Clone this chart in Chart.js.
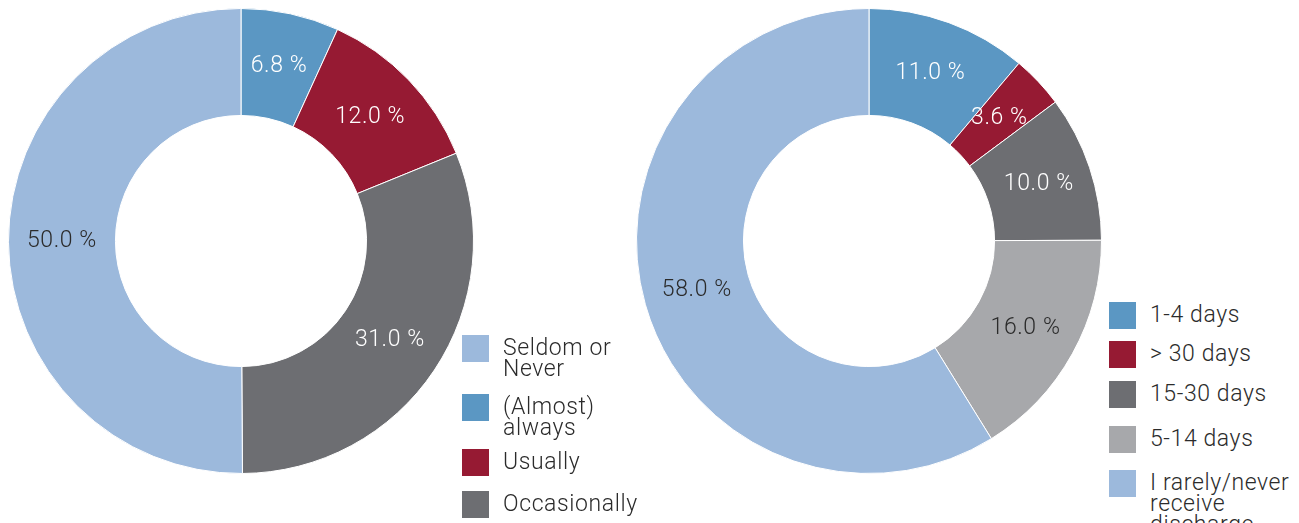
<!DOCTYPE html>
<html lang="en">
<head>
<meta charset="UTF-8">
<title>Discharge frequency</title>
<script src="https://cdn.jsdelivr.net/npm/chart.js"></script>
<style>
  * { margin: 0; padding: 0; }
  body {
    width: 1299px; height: 523px; overflow: hidden;
    background: #fff; position: relative;
    font-family: 'Roboto', 'Liberation Sans', sans-serif;
    font-weight: 300;
    color: #2b2b2b;
  }
  .chartBox { position: absolute; top: 8px; width: 466px; height: 466px; }
  #leftBox { left: 8px; }
  #rightBox { left: 636px; }
  .legend { position: absolute; font-size: 23px; line-height: 21px; letter-spacing: 0.6px; }
  .legend .item { position: absolute; left: 0; white-space: nowrap; }
  .legend .sw { position: absolute; left: 0; top: 0; width: 27px; height: 27px; }
  .legend .txt { position: absolute; left: 41px; top: 2px; }
</style>
</head>
<body>
<div class="chartBox" id="leftBox"><canvas id="leftChart"></canvas></div>
<div class="chartBox" id="rightBox"><canvas id="rightChart"></canvas></div>
<div class="legend" id="leftLegend" style="left:462px; top:0;"></div>
<div class="legend" id="rightLegend" style="left:1109px; top:0;"></div>

<script>
  // left chart data (clockwise from top)
  const leftLabels = ['(Almost) always', 'Usually', 'Occasionally', 'Seldom or Never'];
  const leftValues = [6.8, 12.0, 31.0, 50.0];
  const leftColors = ['#5b97c3', '#961a33', '#6d6e72', '#9cb9dc'];
  const leftLegendOrder = [3, 0, 1, 2];
  const leftLegendText = ['Seldom or<br>Never', '(Almost)<br>always', 'Usually', 'Occasionally'];
  const leftLegendTop = [335, 394, 449, 491];

  // right chart data (clockwise from top)
  const rightLabels = ['1-4 days', '> 30 days', '15-30 days', '5-14 days', 'I rarely/never receive discharge'];
  const rightValues = [11.0, 3.6, 10.0, 16.0, 58.0];
  const rightColors = ['#5b97c3', '#961a33', '#6d6e72', '#a7a8ab', '#9cb9dc'];
  const rightLegendText = ['1-4 days', '&gt; 30 days', '15-30 days', '5-14 days', 'I rarely/never<br>receive<br>discharge'];
  const rightLegendTop = [302, 341, 381, 426, 470];

  const darkText = '#2b2b2b';
  const lightSegs = ['#9cb9dc', '#a7a8ab'];

  // draws the "xx.x %" labels at the middle of each arc
  const arcLabels = {
    id: 'arcLabels',
    afterDatasetsDraw(chart) {
      const ctx = chart.ctx;
      const ds = chart.data.datasets[0];
      chart.getDatasetMeta(0).data.forEach((arc, i) => {
        const p = arc.tooltipPosition();
        ctx.save();
        ctx.font = "300 23px 'Roboto', 'Liberation Sans', sans-serif";
        ctx.letterSpacing = '0.6px';
        ctx.textAlign = 'center';
        ctx.textBaseline = 'middle';
        ctx.fillStyle = lightSegs.includes(ds.backgroundColor[i]) ? darkText : '#ffffff';
        ctx.fillText(ds.data[i].toFixed(1) + ' %', p.x, p.y);
        ctx.restore();
      });
    }
  };

  function makeDonut(id, labels, values, colors) {
    return new Chart(document.getElementById(id), {
      type: 'doughnut',
      data: {
        labels: labels,
        datasets: [{
          data: values,
          backgroundColor: colors,
          borderColor: '#ffffff',
          borderWidth: 1
        }]
      },
      options: {
        responsive: true,
        maintainAspectRatio: false,
        animation: false,
        cutout: '54%',
        layout: { padding: 0 },
        plugins: { legend: { display: false }, tooltip: { enabled: false } }
      },
      plugins: [arcLabels]
    });
  }

  makeDonut('leftChart', leftLabels, leftValues, leftColors);
  makeDonut('rightChart', rightLabels, rightValues, rightColors);

  function buildLegend(elId, colorIdx, colors, texts, tops) {
    const el = document.getElementById(elId);
    texts.forEach((t, k) => {
      const item = document.createElement('div');
      item.className = 'item';
      item.style.top = tops[k] + 'px';
      item.innerHTML = '<div class="sw" style="background:' + colors[colorIdx[k]] + '"></div>' +
                       '<div class="txt">' + t + '</div>';
      el.appendChild(item);
    });
  }
  buildLegend('leftLegend', leftLegendOrder, leftColors, leftLegendText, leftLegendTop);
  buildLegend('rightLegend', [0, 1, 2, 3, 4], rightColors, rightLegendText, rightLegendTop);
</script>
</body>
</html>
